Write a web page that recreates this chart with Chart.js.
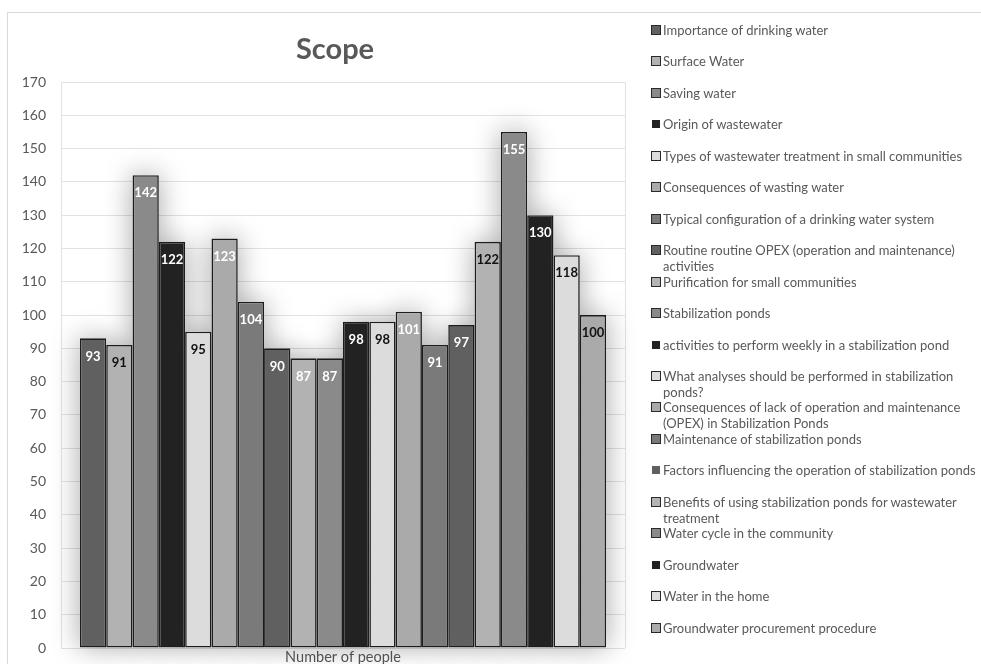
<!DOCTYPE html>
<html>
<head>
<meta charset="utf-8">
<title>Scope</title>
<script src="https://cdn.jsdelivr.net/npm/chart.js@4.4.1/dist/chart.umd.min.js"></script>
<style>
  html, body { margin: 0; padding: 0; background: #ffffff; overflow: hidden; }
  #wrap { position: relative; width: 981px; height: 664px; overflow: hidden; }
  #frame { position: absolute; left: 7px; top: 12px; width: 1000px; height: 700px;
           border: 1px solid #dadada; box-sizing: border-box; }
  #c { position: absolute; left: 0; top: 0; }
  #legend { position: absolute; left: 651px; top: 22px; }
  .item { position: absolute; left: 0; width: 340px; font: 13px Lato, sans-serif;
          color: #595959; line-height: 16px; }
  .sw { position: absolute; left: 0; top: 3px; width: 10px; height: 10px; box-sizing: border-box; }
  .sw.plain { left: 1px; top: 4px; width: 8px; height: 8px; }
  .txt { position: absolute; left: 12px; top: 0; width: 322px; }
</style>
</head>
<body>
<div id="wrap">
  <div id="frame"></div>
  <canvas id="c" width="981" height="664"></canvas>
  <div id="legend"></div>
</div>
<script>
// Survey topics and number of people interested in each
const chartTitle = 'Scope';
const categories = ['Number of people'];

const topics = [
  'Importance of drinking water',
  'Surface Water',
  'Saving water',
  'Origin of wastewater',
  'Types of wastewater treatment in small communities',
  'Consequences of wasting water',
  'Typical configuration of a drinking water system',
  'Routine routine OPEX (operation and maintenance) activities',
  'Purification for small communities',
  'Stabilization ponds',
  'activities to perform weekly in a stabilization pond',
  'What analyses should be performed in stabilization ponds?',
  'Consequences of lack of operation and maintenance (OPEX) in Stabilization Ponds',
  'Maintenance of stabilization ponds',
  'Factors influencing the operation of stabilization ponds',
  'Benefits of using stabilization ponds for wastewater treatment',
  'Water cycle in the community',
  'Groundwater',
  'Water in the home',
  'Groundwater procurement procedure'
];

const counts = [93, 91, 142, 122, 95, 123, 104, 90, 87, 87, 98, 98, 101, 91, 97, 122, 155, 130, 118, 100];

const yTicks = { min: 0, max: 170, step: 10 };

// Styling
const palette = ['#606060', '#b2b2b2', '#8a8a8a', '#222222', '#dcdcdc', '#aaaaaa', '#7a7a7a'];
const valueColors = ['#ffffff', '#111111', '#ffffff', '#ffffff', '#111111', '#ffffff', '#ffffff',
                     '#ffffff', '#ffffff', '#ffffff', '#ffffff', '#111111', '#ffffff', '#ffffff',
                     '#ffffff', '#111111', '#ffffff', '#ffffff', '#111111', '#111111'];
const plainSwatch = [3, 10, 14, 17];   // legend keys drawn without an outline
const gridColor = '#e2e2e2';
const textColor = '#595959';

const datasets = topics.map((name, i) => ({
  label: name,
  data: [counts[i]],
  backgroundColor: palette[i % palette.length],
  borderColor: '#1c1c1c',
  borderWidth: 1.6,
  borderSkipped: false,
  categoryPercentage: 0.933,
  barPercentage: 1.0
}));

// Soft halo behind the bars
const barHalo = {
  id: 'barHalo',
  beforeDatasetsDraw(chart) {
    const ctx = chart.ctx;
    ctx.save();
    ctx.shadowColor = 'rgba(0,0,0,0.36)';
    ctx.shadowBlur = 28;
    ctx.fillStyle = '#ffffff';
    chart.data.datasets.forEach((ds, i) => {
      const meta = chart.getDatasetMeta(i);
      meta.data.forEach(el => {
        const p = el.getProps(['x', 'y', 'base', 'width'], true);
        ctx.fillRect(p.x - p.width / 2, p.y, p.width, p.base - p.y);
      });
    });
    ctx.restore();
  }
};

// Value labels just inside the top of each bar
const valueLabels = {
  id: 'valueLabels',
  afterDatasetsDraw(chart) {
    const ctx = chart.ctx;
    ctx.save();
    ctx.font = 'bold 13px Lato, sans-serif';
    ctx.textAlign = 'center';
    ctx.textBaseline = 'middle';
    chart.data.datasets.forEach((ds, i) => {
      const meta = chart.getDatasetMeta(i);
      meta.data.forEach((el, j) => {
        const p = el.getProps(['x', 'y'], true);
        ctx.fillStyle = valueColors[i];
        ctx.fillText(String(ds.data[j]), p.x, p.y + 18);
      });
    });
    ctx.restore();
  }
};

// Chart heading, centred over the plot and axis
const heading = {
  id: 'heading',
  afterDraw(chart) {
    const ctx = chart.ctx;
    ctx.save();
    ctx.font = 'bold 29px Lato, sans-serif';
    ctx.fillStyle = textColor;
    ctx.textAlign = 'center';
    ctx.textBaseline = 'middle';
    const cx = (chart.chartArea.left + chart.chartArea.right) / 2 - 8;
    ctx.fillText(chartTitle, cx, 50);
    ctx.restore();
  }
};

const chart = new Chart(document.getElementById('c'), {
  type: 'bar',
  data: { labels: categories, datasets },
  options: {
    responsive: false,
    animation: false,
    layout: { padding: { left: 0, right: 356, top: 82, bottom: 0 } },
    plugins: {
      legend: { display: false },
      tooltip: { enabled: false },
      title: { display: false }
    },
    scales: {
      x: {
        grid: { color: gridColor, drawTicks: false, offset: true },
        border: { display: false },
        ticks: { color: textColor, font: { family: 'Lato', size: 14.5 }, padding: 1 },
        afterFit(scale) { scale.height = 16; }
      },
      y: {
        min: yTicks.min,
        max: yTicks.max,
        grid: { color: gridColor, drawTicks: false },
        border: { display: false },
        ticks: { stepSize: yTicks.step, color: textColor, font: { family: 'Lato', size: 14 }, padding: 15 },
        afterFit(scale) {
          scale.width = 61;
          scale.paddingTop = 0;
          scale.paddingBottom = 0;
        }
      }
    }
  },
  plugins: [barHalo, valueLabels, heading]
});

// Legend column built from the chart's datasets
const legendBox = document.getElementById('legend');
chart.data.datasets.forEach((ds, i) => {
  const item = document.createElement('div');
  item.className = 'item';
  item.style.top = (i * 31.45) + 'px';
  const sw = document.createElement('div');
  sw.className = 'sw' + (plainSwatch.includes(i) ? ' plain' : '');
  sw.style.background = ds.backgroundColor;
  if (!plainSwatch.includes(i)) sw.style.border = '1.5px solid #2a2a2a';
  const txt = document.createElement('div');
  txt.className = 'txt';
  txt.textContent = ds.label;
  item.appendChild(sw);
  item.appendChild(txt);
  legendBox.appendChild(item);
});
</script>
</body>
</html>
